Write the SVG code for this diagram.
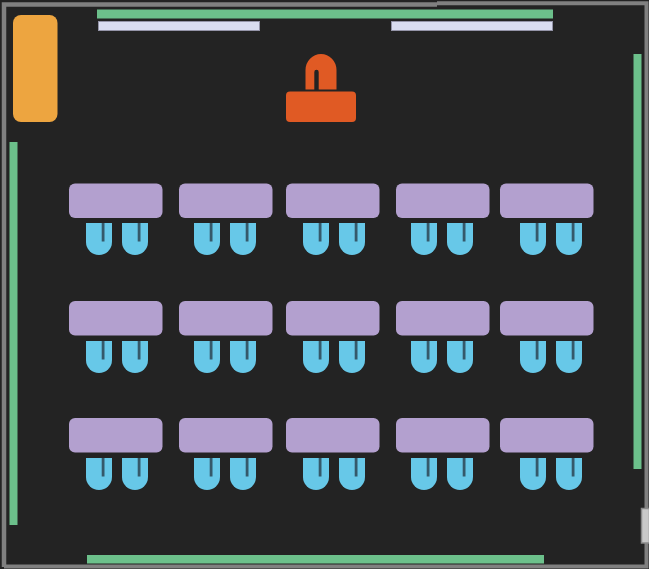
<svg xmlns="http://www.w3.org/2000/svg" width="649" height="569" viewBox="0 0 649 569">
<style>
.wall{fill:#6cc08b}
.board{fill:#d9dcf0;stroke:#9494a8;stroke-width:1}
.desk{fill:#b3a0cf}
.chair{fill:#67c8e8}
.slot{fill:#35596a}
</style>
<defs>
<g id="studentChair">
<path class="chair" d="M0 0H26V19A13 13 0 0 1 0 19Z"/>
<rect class="slot" x="15.700" y="0" width="2.800" height="18.500"/>
</g>
<g id="studentSet">
<use href="#studentChair" x="17" y="40"/>
<use href="#studentChair" x="53" y="40"/>
</g>
<rect id="studentDesk" class="desk" width="93.500" height="34.500" rx="6"/>
</defs>
<rect width="649" height="569" fill="#232323"/>
<g id="frame" fill="none" stroke="#808080">
<path d="M4 567V4.500H437" stroke-width="4.500"/>
<path d="M437 3.200H646.500V566.500H4" stroke-width="4"/>
</g>
<g id="connectors"></g>
<g id="wall-top"><rect class="wall" x="97" y="9.500" width="456" height="9"/></g>
<g id="board-left"><rect class="board" x="98.500" y="21.500" width="161" height="9"/></g>
<g id="board-right"><rect class="board" x="391.500" y="21.500" width="161" height="9"/></g>
<g id="wall-left"><rect class="wall" x="9.500" y="142" width="8" height="383"/></g>
<g id="wall-right"><rect class="wall" x="633.500" y="54" width="8" height="415"/></g>
<g id="wall-bottom"><rect class="wall" x="87" y="555" width="457" height="8.500"/></g>
<g id="cabinet"><rect x="13" y="15" width="44.500" height="107" rx="8" fill="#eda540"/></g>
<g id="door"><rect x="641.500" y="508.500" width="8" height="34.500" fill="#c9c9c9" stroke="#8a8a8a" stroke-width="1.500"/></g>
<g id="teacher" fill="#e05a24">
<path fill-rule="evenodd" d="M305.500 89.500V70A15.500 16 0 0 1 336.500 70V89.500H318.700V72A2.200 2.200 0 0 0 314.300 72V89.500Z"/>
<rect x="286" y="91.500" width="70" height="30.500" rx="4"/>
</g>
<g id="row1-col1"><use href="#studentDesk" x="69" y="183.500"/><use href="#studentSet" x="69" y="183"/></g>
<g id="row1-col2"><use href="#studentDesk" x="179" y="183.500"/><use href="#studentSet" x="177" y="183"/></g>
<g id="row1-col3"><use href="#studentDesk" x="286" y="183.500"/><use href="#studentSet" x="286" y="183"/></g>
<g id="row1-col4"><use href="#studentDesk" x="396" y="183.500"/><use href="#studentSet" x="394" y="183"/></g>
<g id="row1-col5"><use href="#studentDesk" x="500" y="183.500"/><use href="#studentSet" x="503" y="183"/></g>
<g id="row2-col1"><use href="#studentDesk" x="69" y="301"/><use href="#studentSet" x="69" y="301"/></g>
<g id="row2-col2"><use href="#studentDesk" x="179" y="301"/><use href="#studentSet" x="177" y="301"/></g>
<g id="row2-col3"><use href="#studentDesk" x="286" y="301"/><use href="#studentSet" x="286" y="301"/></g>
<g id="row2-col4"><use href="#studentDesk" x="396" y="301"/><use href="#studentSet" x="394" y="301"/></g>
<g id="row2-col5"><use href="#studentDesk" x="500" y="301"/><use href="#studentSet" x="503" y="301"/></g>
<g id="row3-col1"><use href="#studentDesk" x="69" y="418"/><use href="#studentSet" x="69" y="418"/></g>
<g id="row3-col2"><use href="#studentDesk" x="179" y="418"/><use href="#studentSet" x="177" y="418"/></g>
<g id="row3-col3"><use href="#studentDesk" x="286" y="418"/><use href="#studentSet" x="286" y="418"/></g>
<g id="row3-col4"><use href="#studentDesk" x="396" y="418"/><use href="#studentSet" x="394" y="418"/></g>
<g id="row3-col5"><use href="#studentDesk" x="500" y="418"/><use href="#studentSet" x="503" y="418"/></g>
</svg>
